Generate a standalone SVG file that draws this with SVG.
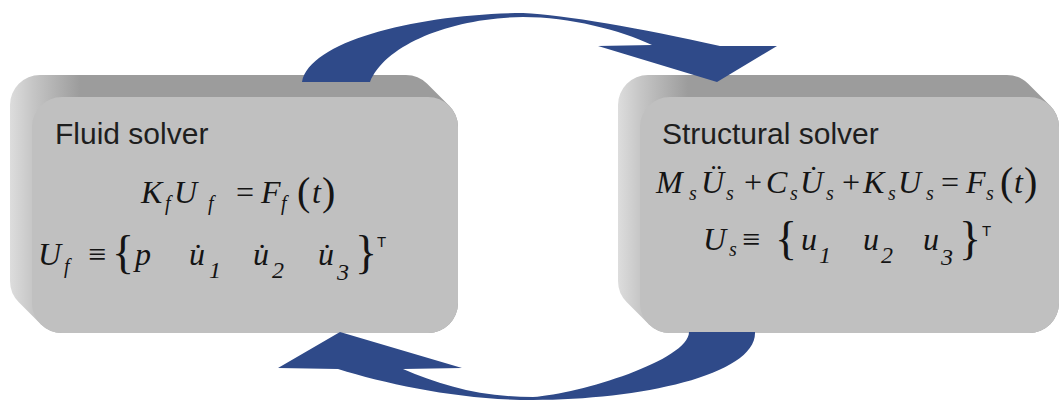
<svg xmlns="http://www.w3.org/2000/svg" width="1059" height="401" viewBox="0 0 1059 401">
  <defs>
    <linearGradient id="sideL" gradientUnits="userSpaceOnUse" x1="10" y1="0" x2="80" y2="0">
      <stop offset="0" stop-color="#dddddd"/>
      <stop offset="0.32" stop-color="#c6c6c6"/>
      <stop offset="1" stop-color="#9c9c9c"/>
    </linearGradient>
    <linearGradient id="sideR" gradientUnits="userSpaceOnUse" x1="618" y1="0" x2="688" y2="0">
      <stop offset="0" stop-color="#dddddd"/>
      <stop offset="0.32" stop-color="#c6c6c6"/>
      <stop offset="1" stop-color="#9c9c9c"/>
    </linearGradient>
  </defs>
  <style>
    .face { fill: #c0c0c0; }
    .title { font-family: "Liberation Sans", Arial, sans-serif; font-size: 30px; fill: #1e1e1e; }
    .m { font-family: "Liberation Serif", "Times New Roman", serif; font-style: italic; font-size: 32px; fill: #141414; }
    .n { font-style: normal; }
    .sub { font-size: 20px; }
    .idx { font-size: 24px; }
    .par { font-size: 40px; font-style: normal; }
    .brc { font-size: 46px; font-style: normal; }
    .tr { font-family: "Liberation Sans", Arial, sans-serif; font-size: 15px; fill: #141414; }
    .arrow { fill: #2f4a89; }
  </style>

  <rect width="1059" height="401" fill="#ffffff"/>

  <!-- Fluid solver block: extruded rounded box -->
  <g id="fluid-solver">
    <path fill="url(#sideL)" d="M10,105 A30,30 0 0 1 40,75 L406,75 A30,30 0 0 1 427.21,83.79 L449.21,105.79 A30,30 0 0 1 458,127 L458,303 A30,30 0 0 1 428,333 L62,333 A30,30 0 0 1 40.79,324.21 L18.79,302.21 A30,30 0 0 1 10,281 Z"/>
    <rect class="face" x="32" y="97" width="426" height="236" rx="30"/>
    <text class="title" x="55" y="144">Fluid solver</text>
    <!-- K_f U_f = F_f(t) -->
    <text class="m">
      <tspan x="141" y="203">K</tspan>
      <tspan class="sub" x="165" y="210">f</tspan>
      <tspan x="174" y="203">U</tspan>
      <tspan class="sub" x="208" y="210">f</tspan>
      <tspan class="n" x="236" y="203">=</tspan>
      <tspan x="261" y="203">F</tspan>
      <tspan class="sub" x="281" y="210">f</tspan>
      <tspan class="par" x="297" y="205">(</tspan>
      <tspan x="312" y="203">t</tspan>
      <tspan class="par" x="322" y="205">)</tspan>
    </text>
    <!-- U_f = { p u1' u2' u3' }^T -->
    <text class="m">
      <tspan x="38" y="265">U</tspan>
      <tspan class="sub" x="64" y="273">f</tspan>
      <tspan class="n" x="88" y="265">≡</tspan>
      <tspan class="brc" x="112" y="268">{</tspan>
      <tspan x="135" y="265">p</tspan>
      <tspan x="189" y="265">u&#x307;</tspan>
      <tspan class="idx" x="209" y="278">1</tspan>
      <tspan x="253" y="265">u&#x307;</tspan>
      <tspan class="idx" x="272" y="278">2</tspan>
      <tspan x="318" y="265">u&#x307;</tspan>
      <tspan class="idx" x="337" y="280">3</tspan>
      <tspan class="brc" x="355" y="268">}</tspan>
    </text>
    <text class="tr" x="377" y="247">T</text>
  </g>

  <!-- Structural solver block -->
  <g id="structural-solver">
    <path fill="url(#sideR)" d="M618,105 A30,30 0 0 1 648,75 L1007,75 A30,30 0 0 1 1028.21,83.79 L1050.21,105.79 A30,30 0 0 1 1059,127 L1059,303 A30,30 0 0 1 1029,333 L670,333 A30,30 0 0 1 648.79,324.21 L626.79,302.21 A30,30 0 0 1 618,281 Z"/>
    <rect class="face" x="640" y="97" width="419" height="236" rx="30"/>
    <text class="title" x="662" y="144">Structural solver</text>
    <!-- M_s U'' + C_s U' + K_s U = F_s(t) -->
    <text class="m">
      <tspan x="656" y="193">M</tspan>
      <tspan class="sub" x="689" y="200">s</tspan>
      <tspan x="701" y="193">Ü</tspan>
      <tspan class="sub" x="726" y="200">s</tspan>
      <tspan class="n" x="744" y="193">+</tspan>
      <tspan x="766" y="193">C</tspan>
      <tspan class="sub" x="790" y="200">s</tspan>
      <tspan x="800" y="193">U&#x307;</tspan>
      <tspan class="sub" x="826" y="200">s</tspan>
      <tspan class="n" x="842" y="193">+</tspan>
      <tspan x="863" y="193">K</tspan>
      <tspan class="sub" x="888" y="200">s</tspan>
      <tspan x="898" y="193">U</tspan>
      <tspan class="sub" x="926" y="200">s</tspan>
      <tspan class="n" x="941" y="193">=</tspan>
      <tspan x="966" y="193">F</tspan>
      <tspan class="sub" x="986" y="200">s</tspan>
      <tspan class="par" x="1000" y="195">(</tspan>
      <tspan x="1014" y="193">t</tspan>
      <tspan class="par" x="1024" y="195">)</tspan>
    </text>
    <!-- U_s = { u1 u2 u3 }^T -->
    <text class="m">
      <tspan x="703" y="250">U</tspan>
      <tspan class="sub" x="729" y="256">s</tspan>
      <tspan class="n" x="742" y="250">≡</tspan>
      <tspan class="brc" x="775" y="254">{</tspan>
      <tspan x="801" y="250">u</tspan>
      <tspan class="idx" x="819" y="263">1</tspan>
      <tspan x="863" y="250">u</tspan>
      <tspan class="idx" x="881" y="263">2</tspan>
      <tspan x="923" y="250">u</tspan>
      <tspan class="idx" x="941" y="265">3</tspan>
      <tspan class="brc" x="959" y="254">}</tspan>
    </text>
    <text class="tr" x="982" y="236">T</text>
  </g>

  <!-- Exchange loop between the two solvers -->
  <g id="connectors">
    <path class="arrow" d="M302,82 C310,40 420,14 523,13 C565,15 640,28 720,46 L777,46 L717,82 L598,46 L652,45 C620,30 570,17 523,17 C450,18 385,45 370,82 Z"/>
    <path class="arrow" d="M755,332 C757,375 640,400 533,400 C460,400 390,385 338,369 L278,368 L340,332 L462,368 L403,369 C440,385 480,397 533,397 C580,394 689,360 689,332 Z"/>
  </g>
</svg>
